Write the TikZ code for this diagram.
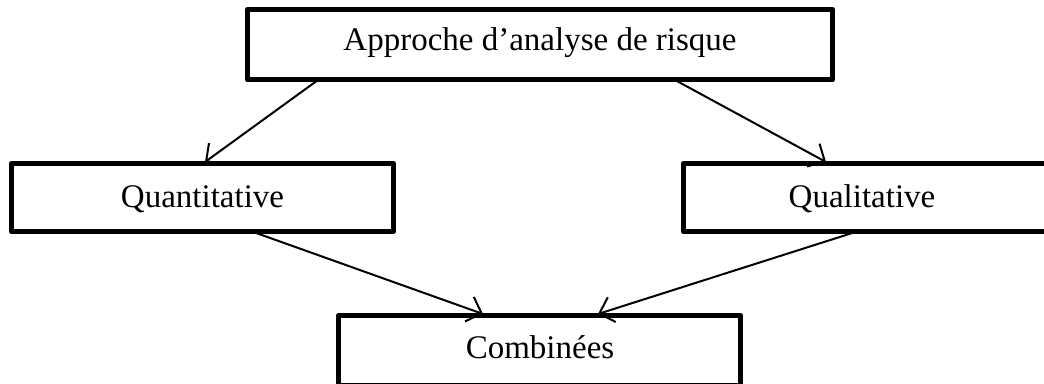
\documentclass[tikz,border=0pt]{standalone}
\usepackage{fontspec}
\setmainfont{Liberation Serif}
\usetikzlibrary{arrows.meta}
\begin{document}
\begin{tikzpicture}[x=1pt,y=1pt,
  box/.style={draw=black, line width=5pt, line join=round, inner sep=0pt, outer sep=0pt},
  lbl/.style={font=\fontsize{33}{40}\selectfont},
  arr/.style={draw=black, line width=2pt, -{Straight Barb[length=13pt,width=26pt,line width=2pt]}}]
\useasboundingbox (0,0) rectangle (1044,383);
\fill[white] (0,0) rectangle (1044,383);
\node[box, minimum width=585pt, minimum height=70.5pt] (top) at (540,338.25) {};
\node[lbl] (toplbl) at (540,340) {Approche d’analyse de risque};
\node[box, minimum width=382pt, minimum height=68pt] (quant) at (202.5,185.5) {};
\node[lbl] (quantlbl) at (202.5,184) {Quantitative};
\node[box, minimum width=366.5pt, minimum height=68pt] (qual) at (866.75,185.5) {};
\node[lbl] (quallbl) at (862,184) {Qualitative};
\node[box, minimum width=402pt, minimum height=69.5pt] (comb) at (539.5,32.75) {};
\node[lbl] (comblbl) at (540,36) {Combinées};
\draw[arr] ([xshift=70.5pt]top.south west) -- ([xshift=193.5pt,yshift=1.5pt]quant.north west);
\draw[arr] ([xshift=427.5pt]top.south west) -- ([xshift=142.5pt,yshift=1.5pt]qual.north west);
\draw[arr] ([xshift=240.5pt]quant.south west) -- ([xshift=144.5pt,yshift=1.5pt]comb.north west);
\draw[arr] ([xshift=173.5pt]qual.south west) -- ([xshift=259.5pt,yshift=1.5pt]comb.north west);
\end{tikzpicture}
\end{document}
